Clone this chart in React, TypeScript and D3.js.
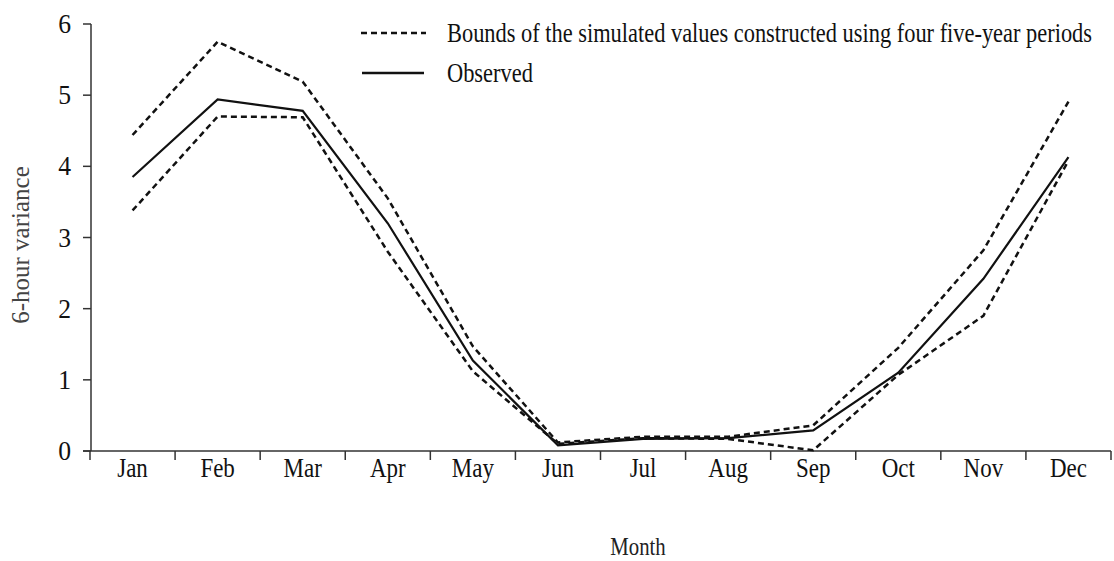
import React from "react";
import * as d3 from "d3";

const months = ["Jan","Feb","Mar","Apr","May","Jun","Jul","Aug","Sep","Oct","Nov","Dec"];
const upperBound = [4.44, 5.75, 5.19, 3.55, 1.47, 0.12, 0.2, 0.2, 0.36, 1.45, 2.82, 4.91];
const observed = [3.85, 4.94, 4.78, 3.2, 1.27, 0.08, 0.17, 0.18, 0.29, 1.1, 2.42, 4.13];
const lowerBound = [3.38, 4.7, 4.69, 2.8, 1.12, 0.1, 0.18, 0.17, 0.01, 1.07, 1.9, 4.08];
const yTicks = [0, 1, 2, 3, 4, 5, 6];

const W = 1114, H = 561;
const FONT = "'Liberation Serif', 'Times New Roman', serif";

function T({ x, y, size, sx = 1, anchor = "start", fill = "#111", children }: any) {
  return (
    <text transform={`translate(${x},${y}) scale(${sx},1)`} textAnchor={anchor}
      fontFamily={FONT} fontSize={size} fill={fill}>{children}</text>
  );
}

export default function App() {
  const x = d3.scaleBand<string>().domain(months).range([90, 1111]).padding(0);
  const y = d3.scaleLinear().domain([0, 6]).range([451, 24]);
  const cx = (m: string) => (x(m) as number) + x.bandwidth() / 2;
  const line = d3.line<number>().x((_, i) => cx(months[i])).y(d => y(d));
  const boundaries = [...months.map(m => x(m) as number), 1111];
  const axisColor = "#333";
  return (
    <svg width={W} height={H} style={{ position: "absolute", left: 0, top: 0, background: "#fff" }}>
      <rect width={W} height={H} fill="#fff" />
      {/* y axis */}
      <line x1={91} x2={91} y1={y(6)} y2={y(0)} stroke={axisColor} strokeWidth={1.5} />
      {yTicks.map(t => (
        <g key={t}>
          <line x1={83} x2={91} y1={y(t)} y2={y(t)} stroke={axisColor} strokeWidth={1.5} />
          <T x={71} y={y(t) + 9} size={27} sx={0.95} anchor="end">{t}</T>
        </g>
      ))}
      {/* x axis */}
      <line x1={83} x2={1111} y1={y(0)} y2={y(0)} stroke={axisColor} strokeWidth={1.5} />
      {boundaries.map((b, i) => (
        <line key={i} x1={b} x2={b} y1={y(0)} y2={y(0) + 9} stroke={axisColor} strokeWidth={1.5} />
      ))}
      {months.map(m => (
        <T key={m} x={cx(m)} y={477} size={28} sx={0.82} anchor="middle">{m}</T>
      ))}
      <T x={638} y={555} size={26} sx={0.8} anchor="middle" fill="#222">Month</T>
      <text transform={`translate(29,245) rotate(-90)`} textAnchor="middle" fontFamily={FONT} fontSize={25} fill="#444">6-hour variance</text>
      {/* series */}
      <path d={line(upperBound) || ""} fill="none" stroke="#111" strokeWidth={2.5} strokeDasharray="6,4" />
      <path d={line(lowerBound) || ""} fill="none" stroke="#111" strokeWidth={2.5} strokeDasharray="6,4" />
      <path d={line(observed) || ""} fill="none" stroke="#111" strokeWidth={2.2} />
      {/* legend */}
      <line x1={361} x2={426} y1={33} y2={33} stroke="#111" strokeWidth={2.5} strokeDasharray="6,4" />
      <T x={447} y={42} size={27} sx={0.83}>Bounds of the simulated values constructed using four five-year periods</T>
      <line x1={362} x2={424} y1={73} y2={73} stroke="#111" strokeWidth={2.5} />
      <T x={447} y={82} size={27} sx={0.83}>Observed</T>
    </svg>
  );
}
